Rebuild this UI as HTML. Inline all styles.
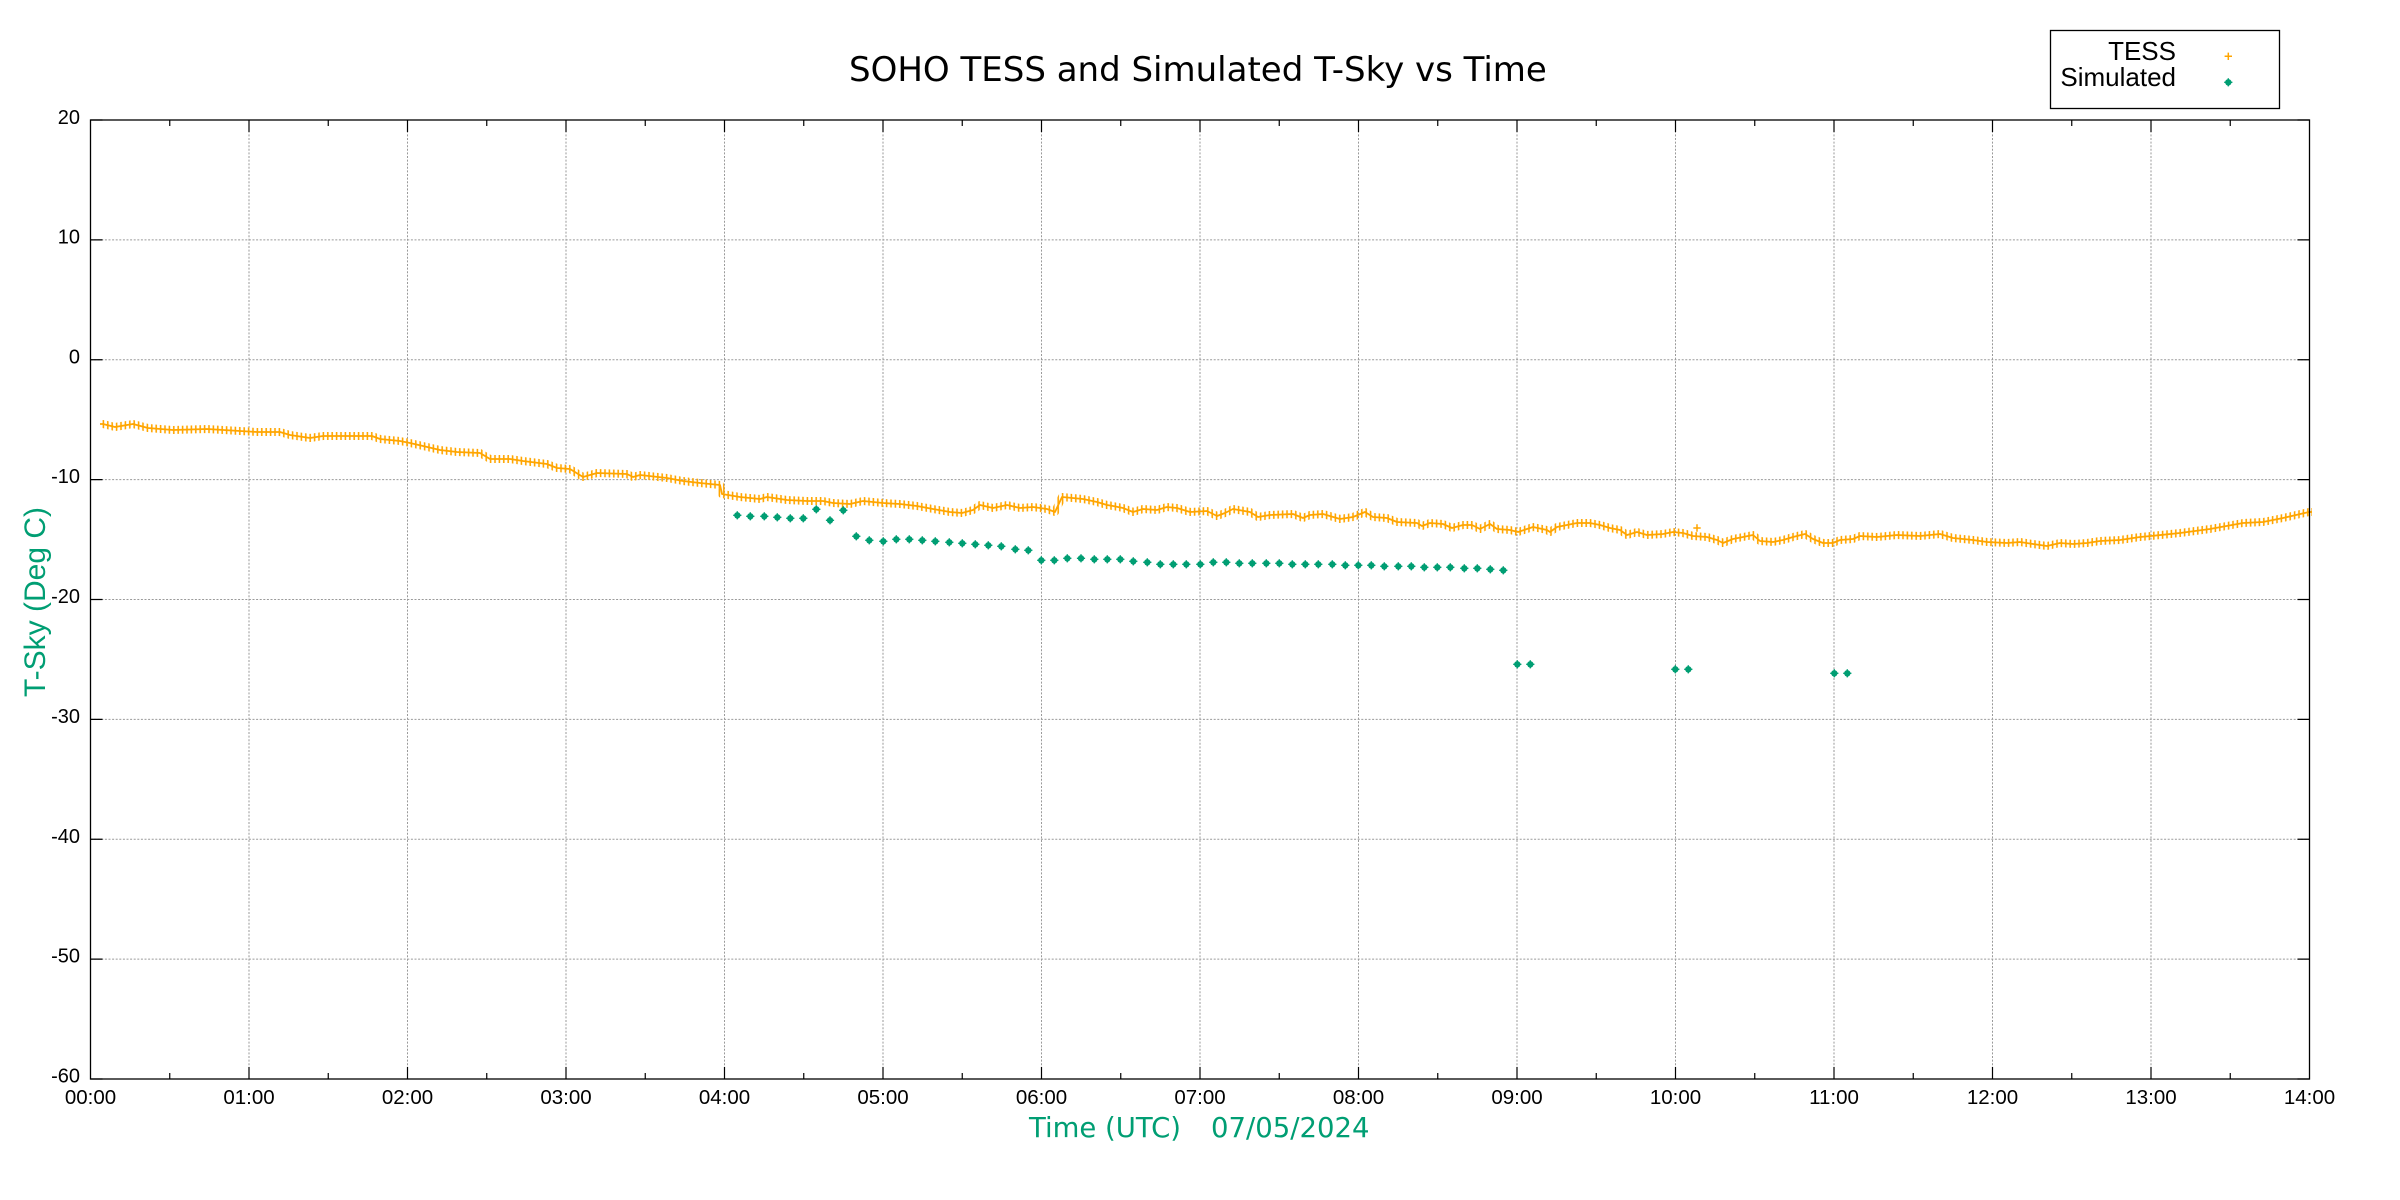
<!DOCTYPE html>
<html>
<head>
<meta charset="utf-8">
<style>
html,body{margin:0;padding:0;background:#fff;}
svg{display:block;}
</style>
</head>
<body>
<svg width="2400" height="1200" viewBox="0 0 2400 1200" xmlns="http://www.w3.org/2000/svg">
<defs>
  <pattern id="vb" patternUnits="userSpaceOnUse" x="0" y="0" width="4.4" height="40">
    <rect x="1.4" y="0" width="1.6" height="40" fill="#ffa500"/>
  </pattern>
  <g id="sd">
    <circle r="3.2" fill="#009e73"/>
    <path d="M-4.1 0H4.1M0 -4.1V4.1" stroke="#009e73" stroke-width="1.4"/>
  </g>
</defs>
<rect width="2400" height="1200" fill="#fff"/>

<!-- grid -->
<g stroke="#9a9a9a" stroke-width="1" stroke-dasharray="2,1.6" fill="none">
  <path d="M90.5 239.9H2309.5M90.5 359.75H2309.5M90.5 479.6H2309.5M90.5 599.5H2309.5M90.5 719.4H2309.5M90.5 839.25H2309.5M90.5 959.1H2309.5"/>
  <path d="M249 120V1079M407.5 120V1079M566 120V1079M724.5 120V1079M883 120V1079M1041.5 120V1079M1200 120V1079M1358.5 120V1079M1517 120V1079M1675.5 120V1079M1834 120V1079M1992.5 120V1079M2151 120V1079"/>
</g>

<!-- TESS series -->
<g fill="none">
<polyline stroke="url(#vb)" stroke-width="8" stroke-linejoin="round" points="100,424 103,424 115,427 133,424 148,428 173,430 207,429 240,431 257,432 280,432 290,435 310,438 323,436 357,436 372,436 380,439 400,441 410,443 423,446 440,450 457,452 480,453 490,459 510,459 523,461 547,464 557,468 570,469 583,477 597,473 627,474 633,477 640,475 667,478 683,481 700,483 720,485 722,494 740,497 760,499 767,497 787,500 807,501 823,501 833,503 850,504 863,501 883,503 900,504 917,506 933,509 950,512 962,513 973,510 980,505 993,508 1007,505 1020,508 1033,507 1047,509 1055,512 1062,497 1083,499 1097,502 1107,505 1113,506 1123,508 1133,512 1143,509 1157,510 1167,507 1177,508 1190,512 1207,511 1217,516 1225,513 1233,509 1250,512 1258,517 1270,515 1293,514 1303,518 1310,515 1323,514 1340,519 1353,517 1365,512 1373,517 1387,518 1397,522 1417,523 1422,526 1430,523 1443,524 1452,528 1463,525 1472,525 1480,529 1490,524 1497,529 1510,530 1518,532 1527,529 1533,527 1547,530 1550,532 1557,527 1577,523 1590,523 1600,525 1610,528 1620,530 1627,535 1637,532 1647,535 1663,534 1673,532 1683,533 1693,536 1707,537 1717,540 1723,543 1733,539 1743,537 1753,535 1760,541 1773,542 1783,540 1793,537 1805,534 1813,539 1823,543 1833,543 1840,540 1853,539 1860,536 1877,537 1897,535 1920,536 1940,534 1953,538 1973,540 1987,542 2007,543 2020,542 2033,544 2047,546 2060,543 2073,544 2087,543 2100,541 2120,540 2140,537 2151,536 2180,533 2210,529 2243,523 2263,522 2283,518 2309,512 2312,512"/>
<polyline stroke="#ffa500" stroke-width="1.8" stroke-linejoin="round" points="100,424 103,424 115,427 133,424 148,428 173,430 207,429 240,431 257,432 280,432 290,435 310,438 323,436 357,436 372,436 380,439 400,441 410,443 423,446 440,450 457,452 480,453 490,459 510,459 523,461 547,464 557,468 570,469 583,477 597,473 627,474 633,477 640,475 667,478 683,481 700,483 720,485 722,494 740,497 760,499 767,497 787,500 807,501 823,501 833,503 850,504 863,501 883,503 900,504 917,506 933,509 950,512 962,513 973,510 980,505 993,508 1007,505 1020,508 1033,507 1047,509 1055,512 1062,497 1083,499 1097,502 1107,505 1113,506 1123,508 1133,512 1143,509 1157,510 1167,507 1177,508 1190,512 1207,511 1217,516 1225,513 1233,509 1250,512 1258,517 1270,515 1293,514 1303,518 1310,515 1323,514 1340,519 1353,517 1365,512 1373,517 1387,518 1397,522 1417,523 1422,526 1430,523 1443,524 1452,528 1463,525 1472,525 1480,529 1490,524 1497,529 1510,530 1518,532 1527,529 1533,527 1547,530 1550,532 1557,527 1577,523 1590,523 1600,525 1610,528 1620,530 1627,535 1637,532 1647,535 1663,534 1673,532 1683,533 1693,536 1707,537 1717,540 1723,543 1733,539 1743,537 1753,535 1760,541 1773,542 1783,540 1793,537 1805,534 1813,539 1823,543 1833,543 1840,540 1853,539 1860,536 1877,537 1897,535 1920,536 1940,534 1953,538 1973,540 1987,542 2007,543 2020,542 2033,544 2047,546 2060,543 2073,544 2087,543 2100,541 2120,540 2140,537 2151,536 2180,533 2210,529 2243,523 2263,522 2283,518 2309,512 2312,512"/>
<path d="M1693.3 528H1700.7M1697 524.3V531.7" stroke="#ffa500" stroke-width="1.5"/>
</g>

<!-- Simulated series -->
<g>
<use href="#sd" x="737.3" y="515.3"/><use href="#sd" x="750.3" y="516.3"/><use href="#sd" x="764.3" y="516.3"/><use href="#sd" x="777.3" y="517.3"/><use href="#sd" x="790.3" y="518.3"/><use href="#sd" x="803.3" y="518.3"/><use href="#sd" x="816.3" y="509.3"/><use href="#sd" x="830" y="520.3"/><use href="#sd" x="843.3" y="510.3"/><use href="#sd" x="856.3" y="536.3"/><use href="#sd" x="869.3" y="540.3"/><use href="#sd" x="883.3" y="541.3"/><use href="#sd" x="896.3" y="539.3"/><use href="#sd" x="909.3" y="539.3"/><use href="#sd" x="922.3" y="540.3"/><use href="#sd" x="935.3" y="541.3"/><use href="#sd" x="949.3" y="542.3"/><use href="#sd" x="962.3" y="543.3"/><use href="#sd" x="975.3" y="544.3"/><use href="#sd" x="988.3" y="545.3"/><use href="#sd" x="1001.3" y="546.3"/><use href="#sd" x="1015.3" y="549.3"/><use href="#sd" x="1028.3" y="550.3"/><use href="#sd" x="1041.3" y="560.3"/><use href="#sd" x="1054.3" y="560.3"/><use href="#sd" x="1067.3" y="558.3"/><use href="#sd" x="1081" y="558.3"/><use href="#sd" x="1094.3" y="559.3"/><use href="#sd" x="1107.3" y="559.3"/><use href="#sd" x="1120.3" y="559.3"/><use href="#sd" x="1133.3" y="561.3"/><use href="#sd" x="1147.3" y="562.3"/><use href="#sd" x="1160.3" y="564.3"/><use href="#sd" x="1173.3" y="564.3"/><use href="#sd" x="1186.3" y="564.3"/><use href="#sd" x="1200.3" y="564.3"/><use href="#sd" x="1213.3" y="562.3"/><use href="#sd" x="1226.3" y="562.3"/><use href="#sd" x="1239.3" y="563.3"/><use href="#sd" x="1252.3" y="563.3"/><use href="#sd" x="1266.3" y="563.3"/><use href="#sd" x="1279.3" y="563.3"/><use href="#sd" x="1292.3" y="564.3"/><use href="#sd" x="1305.3" y="564.3"/><use href="#sd" x="1318.3" y="564.3"/><use href="#sd" x="1332.3" y="564.3"/><use href="#sd" x="1345.3" y="565.3"/><use href="#sd" x="1358.3" y="565.3"/><use href="#sd" x="1371.3" y="565.3"/><use href="#sd" x="1384.3" y="566.3"/><use href="#sd" x="1398.3" y="566.3"/><use href="#sd" x="1411.3" y="566.3"/><use href="#sd" x="1424.3" y="567.3"/><use href="#sd" x="1437.3" y="567.3"/><use href="#sd" x="1450.3" y="567.3"/><use href="#sd" x="1464.3" y="568.3"/><use href="#sd" x="1477.3" y="568.3"/><use href="#sd" x="1490.3" y="569.3"/><use href="#sd" x="1503.3" y="570.3"/><use href="#sd" x="1517.3" y="664.3"/><use href="#sd" x="1530.3" y="664.3"/><use href="#sd" x="1675.3" y="669.3"/><use href="#sd" x="1688.3" y="669.3"/><use href="#sd" x="1834.3" y="673.3"/><use href="#sd" x="1847.3" y="673.3"/>
</g>

<!-- axes border -->
<rect x="90.5" y="120" width="2219" height="959" fill="none" stroke="#000" stroke-width="1.3"/>

<!-- ticks -->
<g stroke="#000" stroke-width="1.2" fill="none">
  <path d="M90.5 120H102.5M90.5 239.9H102.5M90.5 359.75H102.5M90.5 479.6H102.5M90.5 599.5H102.5M90.5 719.4H102.5M90.5 839.25H102.5M90.5 959.1H102.5M90.5 1079H102.5"/>
  <path d="M2309.5 120H2297.5M2309.5 239.9H2297.5M2309.5 359.75H2297.5M2309.5 479.6H2297.5M2309.5 599.5H2297.5M2309.5 719.4H2297.5M2309.5 839.25H2297.5M2309.5 959.1H2297.5M2309.5 1079H2297.5"/>
  <path d="M249 1079V1067M407.5 1079V1067M566 1079V1067M724.5 1079V1067M883 1079V1067M1041.5 1079V1067M1200 1079V1067M1358.5 1079V1067M1517 1079V1067M1675.5 1079V1067M1834 1079V1067M1992.5 1079V1067M2151 1079V1067"/>
  <path d="M249 120V132M407.5 120V132M566 120V132M724.5 120V132M883 120V132M1041.5 120V132M1200 120V132M1358.5 120V132M1517 120V132M1675.5 120V132M1834 120V132M1992.5 120V132M2151 120V132"/>
  <path d="M169.75 1079V1073M328.25 1079V1073M486.75 1079V1073M645.25 1079V1073M803.75 1079V1073M962.25 1079V1073M1120.75 1079V1073M1279.25 1079V1073M1437.75 1079V1073M1596.25 1079V1073M1754.75 1079V1073M1913.25 1079V1073M2071.75 1079V1073M2230.25 1079V1073"/>
  <path d="M169.75 120V126M328.25 120V126M486.75 120V126M645.25 120V126M803.75 120V126M962.25 120V126M1120.75 120V126M1279.25 120V126M1437.75 120V126M1596.25 120V126M1754.75 120V126M1913.25 120V126M2071.75 120V126M2230.25 120V126"/>
</g>

<!-- y tick labels -->
<g font-family="'Liberation Sans', Arial, sans-serif" font-size="20" fill="#000" text-anchor="end">
  <text x="80" y="124">20</text>
  <text x="80" y="243.5">10</text>
  <text x="80" y="363.3">0</text>
  <text x="80" y="483.2">-10</text>
  <text x="80" y="603">-20</text>
  <text x="80" y="723">-30</text>
  <text x="80" y="842.8">-40</text>
  <text x="80" y="962.6">-50</text>
  <text x="80" y="1082.5">-60</text>
</g>

<!-- x tick labels -->
<g font-family="'Liberation Sans', Arial, sans-serif" font-size="20.5" fill="#000" text-anchor="middle">
  <text x="90.5" y="1104">00:00</text>
  <text x="249" y="1104">01:00</text>
  <text x="407.5" y="1104">02:00</text>
  <text x="566" y="1104">03:00</text>
  <text x="724.5" y="1104">04:00</text>
  <text x="883" y="1104">05:00</text>
  <text x="1041.5" y="1104">06:00</text>
  <text x="1200" y="1104">07:00</text>
  <text x="1358.5" y="1104">08:00</text>
  <text x="1517" y="1104">09:00</text>
  <text x="1675.5" y="1104">10:00</text>
  <text x="1834" y="1104">11:00</text>
  <text x="1992.5" y="1104">12:00</text>
  <text x="2151" y="1104">13:00</text>
  <text x="2309.5" y="1104">14:00</text>
</g>

<!-- title -->
<text x="849" y="81" font-family="'DejaVu Sans', Verdana, sans-serif" font-size="34" fill="#000">SOHO TESS and Simulated T-Sky vs Time</text>

<!-- axis labels -->
<text x="1029" y="1137" font-family="'DejaVu Sans', Verdana, sans-serif" font-size="27.5" fill="#009e73">Time (UTC)</text>
<text x="1211" y="1137" font-family="'DejaVu Sans', Verdana, sans-serif" font-size="27.5" fill="#009e73">07/05/2024</text>
<text transform="translate(45,602) rotate(-90)" text-anchor="middle" font-family="'Liberation Sans', Arial, sans-serif" font-size="30" fill="#009e73">T-Sky (Deg C)</text>

<!-- legend -->
<rect x="2050.5" y="30.5" width="229" height="78" fill="#fff" stroke="#000" stroke-width="1.3"/>
<g font-family="'Liberation Sans', Arial, sans-serif" font-size="26" fill="#000" text-anchor="end">
  <text x="2176" y="60">TESS</text>
  <text x="2176" y="86">Simulated</text>
</g>
<path d="M2224.6 56.3H2232M2228.3 52.6V60" stroke="#ffa500" stroke-width="1.5"/>
<use href="#sd" x="2228.3" y="82.3"/>
</svg>
</body>
</html>
